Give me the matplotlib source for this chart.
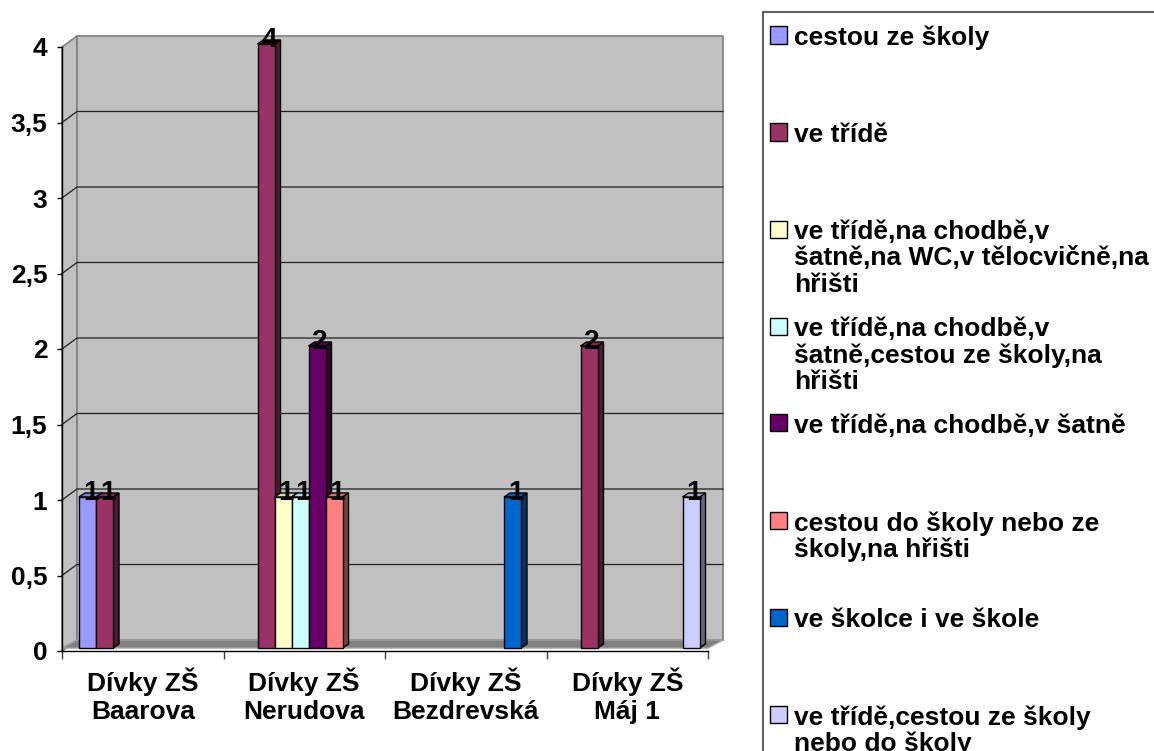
import textwrap
import numpy as np
import matplotlib.pyplot as plt
from matplotlib.patches import Polygon, Rectangle

plt.rcParams['font.family'] = ['Liberation Sans', 'DejaVu Sans']
plt.rcParams['font.weight'] = 'bold'

# data
categories = ['Dívky ZŠ\nBaarova', 'Dívky ZŠ\nNerudova', 'Dívky ZŠ\nBezdrevská', 'Dívky ZŠ\nMáj 1']
series_names = [
    'cestou ze školy',
    've třídě',
    've třídě,na chodbě,v šatně,na WC,v tělocvičně,na hřišti',
    've třídě,na chodbě,v šatně,cestou ze školy,na hřišti',
    've třídě,na chodbě,v šatně',
    'cestou do školy nebo ze školy,na hřišti',
    've školce i ve škole',
    've třídě,cestou ze školy nebo do školy',
]
series_colors = ['#9999FF', '#993366', '#FFFFCC', '#CCFFFF',
                 '#660066', '#FF8080', '#0066CC', '#CCCCFF']
nan = np.nan
counts = [
    [1, nan, nan, nan],
    [1, 4, nan, 2],
    [nan, 1, nan, nan],
    [nan, 1, nan, nan],
    [nan, 2, nan, nan],
    [nan, 1, nan, nan],
    [nan, nan, 1, nan],
    [nan, nan, nan, 1],
]
yticks = np.arange(0, 4.01, 0.5)

FS = 19

W, H = 1154, 751
fig = plt.figure(figsize=(W / 100, H / 100), dpi=100)
ax = fig.add_axes([62 / W, 100 / H, 646 / W, 604 / H])
ax.set_xlim(0, 4)
ax.set_ylim(0, 4)
ax.patch.set_visible(False)

# pixel -> data helpers for the fake 3d look
px_x = 4 / 646
px_y = 4 / 604
dx, dy = 15 * px_x, 11 * px_y
f0 = 3 * px_y
bdx, bdy = 6 * px_x, 4 * px_y
top = yticks[-1]

ax.add_patch(Polygon([(0, 0), (dx, dy), (dx, top + dy), (0, top)], closed=True,
                     fc='#c0c0c0', ec='#808080', lw=1.2, clip_on=False, zorder=0))
ax.add_patch(Polygon([(dx, dy), (4 + dx, dy), (4 + dx, top + dy), (dx, top + dy)], closed=True,
                     fc='#c0c0c0', ec='#808080', lw=1.2, clip_on=False, zorder=0))
for v in yticks[1:-1]:
    ax.plot([0, dx, 4 + dx], [v, v + dy, v + dy], color='#202020', lw=0.9,
            clip_on=False, zorder=1)
ax.add_patch(Polygon([(0, f0), (4, f0), (4 + dx, dy), (dx, dy)], closed=True,
                     fc='#808080', ec='#a0a0a0', lw=1, clip_on=False, zorder=1))

nser = len(series_names)
bw = 1 / (nser + 1.5)
z = 2
for ci in range(len(categories)):
    for si in range(nser):
        v = counts[si][ci]
        if np.isnan(v):
            continue
        x0 = ci + (si + 1) * bw
        c = np.array(plt.matplotlib.colors.to_rgb(series_colors[si]))
        y1 = f0 + v
        ax.add_patch(Polygon([(x0 + bw, f0), (x0 + bw + bdx, f0 + bdy),
                              (x0 + bw + bdx, y1 + bdy), (x0 + bw, y1)], closed=True,
                             fc=c * 0.5, ec='black', lw=1, clip_on=False, zorder=z))
        ax.add_patch(Polygon([(x0, y1), (x0 + bw, y1), (x0 + bw + bdx, y1 + bdy),
                              (x0 + bdx, y1 + bdy)], closed=True,
                             fc=c * 0.85, ec='black', lw=1, clip_on=False, zorder=z))
        ax.bar(x0, v, width=bw, bottom=f0, align='edge', color=series_colors[si],
               edgecolor='black', lw=1, zorder=z + 1, clip_on=False)
        ax.text(x0 + bw / 2 + 3 * px_x, y1 + 4 * px_y, f'{v:g}', ha='center', va='center',
                fontsize=FS + 1, zorder=50, clip_on=False)
        z += 2

ax.spines['top'].set_visible(False)
ax.spines['right'].set_visible(False)
for s in ['left', 'bottom']:
    ax.spines[s].set_color('black')
    ax.spines[s].set_linewidth(1)
    ax.spines[s].set_zorder(60)

ax.set_yticks(yticks, [f'{v:g}'.replace('.', ',') for v in yticks])
ax.tick_params(axis='y', length=3.6, width=1, pad=7, labelsize=FS)
ax.set_xticks(np.arange(len(categories)) + 0.5, categories)
ax.set_xticks(np.arange(len(categories) + 1), minor=True)
ax.tick_params(axis='x', which='major', length=0, pad=12, labelsize=FS)
ax.tick_params(axis='x', which='minor', length=6, width=1, color='#404040')
for lab in ax.get_xticklabels():
    lab.set_linespacing(1.22)

# legend drawn by hand, Excel style
fig.add_artist(Rectangle((763 / W, -0.05), 0.5, 1.05 - 12 / H, transform=fig.transFigure,
                         fill=False, ec='#606060', lw=1.5))
for i, (name, col) in enumerate(zip(series_names, series_colors)):
    cy = 35 + 97 * i
    fig.add_artist(Rectangle((770 / W, 1 - (cy + 8.5) / H), 17 / W, 17 / H,
                             transform=fig.transFigure, fc=col, ec='black', lw=1))
    fig.text(794 / W, 1 - (cy - 9) / H, textwrap.fill(name, 28), va='top', ha='left',
             fontsize=FS, linespacing=1.12)

fig.savefig('out.png', dpi=100)
